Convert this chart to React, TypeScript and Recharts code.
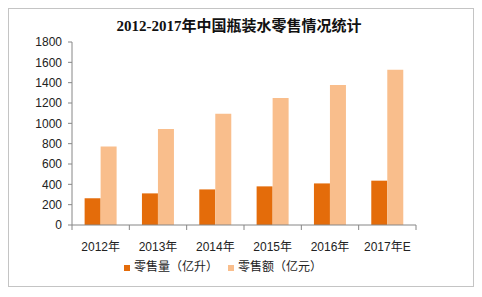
import React from "react";
import { Bar, BarChart, XAxis, YAxis, Legend } from "recharts";

const years = ["2012年", "2013年", "2014年", "2015年", "2016年", "2017年E"];
const volume = [263, 311, 350, 380, 409, 436];
const sales = [773, 944, 1095, 1249, 1377, 1527];
const yTicks = [0, 200, 400, 600, 800, 1000, 1200, 1400, 1600, 1800];

const data = years.map((year, i) => ({ year, volume: volume[i], sales: sales[i] }));

const FONT = '"Liberation Sans", "Noto Sans CJK SC", sans-serif';
const AXIS = "#868686";
const TICK_SIZE = 5;
const TICK_MARGIN = 12;

function CategoryTick(props: any) {
  const { x, y, payload, index, visibleTicksCount } = props;
  const half = payload.offset ?? 0;
  const axisY = y - TICK_SIZE - TICK_MARGIN;
  return (
    <g>
      <line x1={x - half} x2={x - half} y1={axisY} y2={axisY + TICK_SIZE} stroke={AXIS} />
      {index === visibleTicksCount - 1 && (
        <line x1={x + half} x2={x + half} y1={axisY} y2={axisY + TICK_SIZE} stroke={AXIS} />
      )}
      <text x={x} y={y} dy="0.71em" textAnchor="middle" fill="#222" fontSize={12} fontFamily={FONT}>
        {payload.value}
      </text>
    </g>
  );
}

export default function App() {
  return (
    <div
      style={{
        position: "relative",
        width: 464,
        height: 277,
        border: "1px solid #c4c4c4",
        fontFamily: FONT,
        background: "#fff",
      }}
    >
      <div
        style={{
          position: "absolute",
          top: 7,
          left: 0,
          width: 460,
          textAlign: "center",
          fontSize: 15,
          lineHeight: "20px",
          fontWeight: "bold",
          fontFamily: '"Liberation Serif", "Noto Sans CJK SC", serif',
          color: "#111",
        }}
      >
        2012-2017年中国瓶装水零售情况统计
      </div>
      <BarChart
        width={464}
        height={277}
        data={data}
        margin={{ top: 33, right: 57, left: 0, bottom: 31 }}
        barCategoryGap="22%"
        barGap={0}
      >
        <XAxis
          dataKey="year"
          height={30}
          axisLine={{ stroke: AXIS }}
          tickLine={false}
          tickSize={TICK_SIZE}
          tickMargin={TICK_MARGIN}
          tick={<CategoryTick />}
          interval={0}
        />
        <YAxis
          width={63}
          domain={[0, 1800]}
          ticks={yTicks}
          interval={0}
          axisLine={{ stroke: AXIS }}
          tickLine={{ stroke: AXIS }}
          tickSize={4}
          tickMargin={6}
          tick={{ fill: "#222", fontSize: 12, fontFamily: FONT }}
        />
        <Legend
          layout="horizontal"
          verticalAlign="middle"
          iconType="square"
          iconSize={6}
          wrapperStyle={{ top: 249, left: 115, width: "auto", fontSize: 12, lineHeight: "18px" }}
          formatter={(value: any) => <span style={{ color: "#222" }}>{value}</span>}
        />
        <Bar dataKey="volume" name="零售量（亿升）" fill="#E46C0A" isAnimationActive={false} />
        <Bar dataKey="sales" name="零售额（亿元）" fill="#F9BE8C" isAnimationActive={false} />
      </BarChart>
    </div>
  );
}
